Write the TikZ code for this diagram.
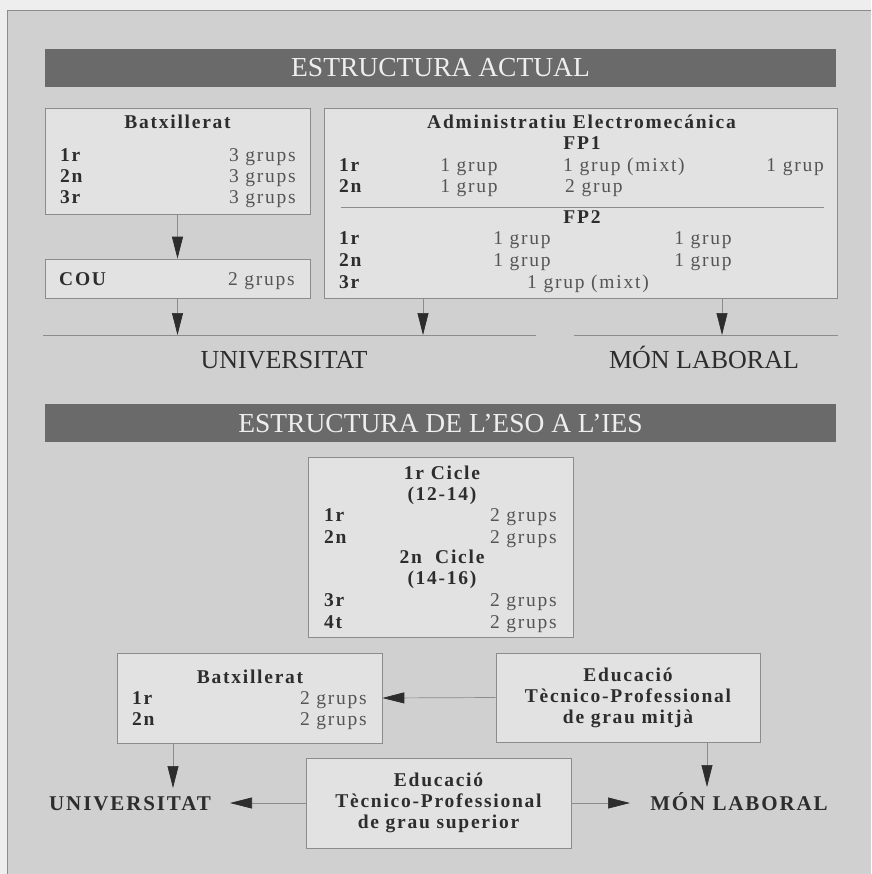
\documentclass[tikz,border=0pt]{standalone}
\usepackage{fontspec}
\setmainfont{Liberation Serif}
\newfontfamily\trackfont[LetterSpace=9]{Liberation Serif}
\usetikzlibrary{arrows.meta}

\definecolor{paper}{RGB}{238,238,238}
\definecolor{panel}{RGB}{208,208,208}
\definecolor{boxfill}{RGB}{226,226,226}
\definecolor{boxline}{RGB}{140,140,140}
\definecolor{barfill}{RGB}{106,106,106}
\definecolor{ink}{RGB}{45,45,45}
\definecolor{softink}{RGB}{85,85,85}

\newcommand{\boxtext}{\trackfont\fontsize{19.5}{21}\selectfont}
\newcommand{\bigtext}{\fontsize{27.5}{30}\selectfont}

\tikzset{
  box/.style={draw=boxline, fill=boxfill, line width=0.6pt, minimum width=265pt, inner sep=0pt},
  bar/.style={fill=barfill, text=paper, minimum width=791pt, minimum height=38pt, inner sep=0pt, font=\bigtext},
  lbl/.style={inner sep=0pt, text=ink, font=\boxtext\bfseries},
  num/.style={inner sep=0pt, text=softink, font=\boxtext},
  dest/.style={inner sep=0pt, text=ink, anchor=base},
  flow/.style={draw=boxline, line width=0.7pt, -{Triangle[length=22pt, width=11pt, color=ink]}},
  rule/.style={draw=boxline, line width=0.8pt},
}

\begin{document}
\begin{tikzpicture}[x=1pt, y=-1pt]
\useasboundingbox (0,0) rectangle (871,874);
\fill[paper] (0,0) rectangle (871,874);
\fill[panel] (7,10) rectangle (871,874);
\draw[boxline, line width=0.6pt] (7,874) -- (7,10) -- (871,10);

% estructura actual
\node (bar1) [bar] at (440.5,68) {ESTRUCTURA ACTUAL};

\node (bat1) [box, minimum height=106pt] at (177.5,161) {};
\node (bat1t) [lbl, anchor=base] at (177.5,129) {Batxillerat};
\node (bat1a) [lbl, anchor=base west] at (60,162) {1r};
\node (bat1b) [lbl, anchor=base west] at (60,183) {2n};
\node (bat1c) [lbl, anchor=base west] at (60,204) {3r};
\node (bat1x) [num, anchor=base east] at (296,162) {3 grups};
\node (bat1y) [num, anchor=base east] at (296,183) {3 grups};
\node (bat1z) [num, anchor=base east] at (296,204) {3 grups};

\node (cou) [box, minimum height=39pt] at (177.5,278.5) {};
\node (cout) [lbl, anchor=base west] at (59,285) {COU};
\node (coux) [num, anchor=base east] at (295,285) {2 grups};

\node (fp) [box, minimum width=513pt, minimum height=190pt] at (580.5,203) {};
\node (fpt) [lbl, anchor=base] at (581.5,129) {Administratiu Electromecánica};
\node (fp1) [lbl, anchor=base] at (582,150) {FP1};
\node (fp1a) [lbl, anchor=base west] at (339,172) {1r};
\node (fp1b) [lbl, anchor=base west] at (339,193) {2n};
\node (fp1ax) [num, anchor=base] at (469,172) {1 grup};
\node (fp1ay) [num, anchor=base west] at (563,172) {1 grup (mixt)};
\node (fp1az) [num, anchor=base east] at (824,172) {1 grup};
\node (fp1bx) [num, anchor=base] at (469,193) {1 grup};
\node (fp1by) [num, anchor=base west] at (565,193) {2 grup};
\coordinate (sepl) at (341,207);
\coordinate (sepr) at (824,207);
\draw[rule, line width=0.6pt] (sepl) -- (sepr);
\node (fp2) [lbl, anchor=base] at (582,224) {FP2};
\node (fp2a) [lbl, anchor=base west] at (339,245) {1r};
\node (fp2b) [lbl, anchor=base west] at (339,267) {2n};
\node (fp2c) [lbl, anchor=base west] at (339,288) {3r};
\node (fp2ax) [num, anchor=base] at (522,245) {1 grup};
\node (fp2ay) [num, anchor=base] at (703,245) {1 grup};
\node (fp2bx) [num, anchor=base] at (522,267) {1 grup};
\node (fp2by) [num, anchor=base] at (703,267) {1 grup};
\node (fp2cx) [num, anchor=base] at (588,288) {1 grup (mixt)};

\coordinate (ua) at (43,335);
\coordinate (ub) at (536,335);
\coordinate (ma) at (574,335);
\coordinate (mb) at (838,335);
\coordinate (u1) at (177.5,335);
\coordinate (u2) at (423,335);
\coordinate (m1) at (722,335);
\draw[rule] (ua) -- (ub);
\draw[rule] (ma) -- (mb);

\draw[flow] (bat1) -- (cou);
\draw[flow] (cou) -- (u1);
\draw[flow] (fp.south -| u2) -- (u2);
\draw[flow] (fp.south -| m1) -- (m1);

\node (uni1) [dest, font=\fontsize{26}{28}\selectfont] at (284,368.6) {UNIVERSITAT};
\node (mon1) [dest, font=\fontsize{26}{28}\selectfont] at (704,368.6) {MÓN LABORAL};

% estructura de l'eso
\node (bar2) [bar] at (440.5,423) {ESTRUCTURA DE L’ESO A L’IES};

\node (cicle) [box, minimum height=180pt] at (440.5,547) {};
\node (cic1) [lbl, anchor=base] at (442,479) {1r Cicle};
\node (cic1e) [lbl, anchor=base] at (442,500) {(12-14)};
\node (cic1a) [lbl, anchor=base west] at (324,521) {1r};
\node (cic1b) [lbl, anchor=base west] at (324,543) {2n};
\node (cic1x) [num, anchor=base east] at (557,521) {2 grups};
\node (cic1y) [num, anchor=base east] at (557,543) {2 grups};
\node (cic2) [lbl, anchor=base] at (442,563) {2n\ \ Cicle};
\node (cic2e) [lbl, anchor=base] at (442,584) {(14-16)};
\node (cic2a) [lbl, anchor=base west] at (324,606) {3r};
\node (cic2b) [lbl, anchor=base west] at (324,628) {4t};
\node (cic2x) [num, anchor=base east] at (557,606) {2 grups};
\node (cic2y) [num, anchor=base east] at (557,628) {2 grups};

\node (bat2) [box, minimum height=90pt] at (249.5,698) {};
\node (bat2t) [lbl, anchor=base] at (250,683) {Batxillerat};
\node (bat2a) [lbl, anchor=base west] at (132,704) {1r};
\node (bat2b) [lbl, anchor=base west] at (132,725) {2n};
\node (bat2x) [num, anchor=base east] at (367,704) {2 grups};
\node (bat2y) [num, anchor=base east] at (367,725) {2 grups};

\node (mid) [box, minimum width=264pt, minimum height=89pt, align=center, text=ink, font=\boxtext\bfseries] at (628,697.5) {Educació\\Tècnico-Professional\\de grau mitjà};
\node (sup) [box, minimum height=90pt, align=center, text=ink, font=\boxtext\bfseries] at (438.5,803) {Educació\\Tècnico-Professional\\de grau superior};

\node (uni2) [dest, font=\trackfont\bfseries\fontsize{21}{23}\selectfont] at (130,810) {UNIVERSITAT};
\node (mon2) [dest, font=\trackfont\bfseries\fontsize{21}{23}\selectfont] at (739,810) {MÓN LABORAL};

\coordinate (u3) at (173,788);
\coordinate (u4) at (230,803);
\coordinate (m3) at (707,787);
\coordinate (m4) at (630,803);
\draw[flow] (mid.west) -- (bat2.east);
\draw[flow] (bat2.south -| u3) -- (u3);
\draw[flow] (mid.south -| m3) -- (m3);
\draw[flow] (sup.west) -- (u4);
\draw[flow] (sup.east) -- (m4);
\end{tikzpicture}
\end{document}
